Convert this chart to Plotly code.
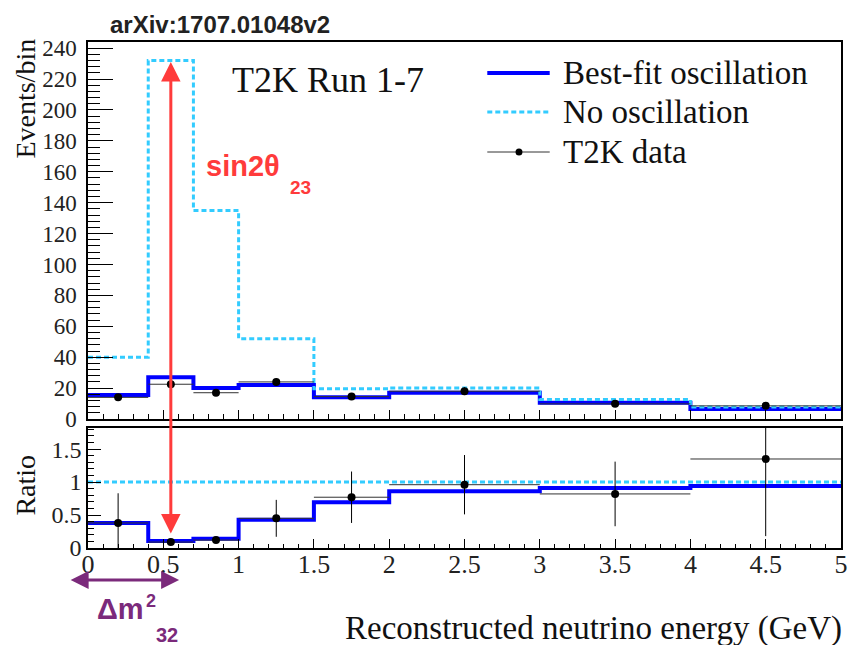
import plotly.graph_objects as go

# ---- data ----
bin_edges = [0.0, 0.4, 0.7, 1.0, 1.5, 2.0, 3.0, 4.0, 5.0]
bin_centers = [0.2, 0.55, 0.85, 1.25, 1.75, 2.5, 3.5, 4.5]
bin_halfwidth = [0.2, 0.15, 0.15, 0.25, 0.25, 0.5, 0.5, 0.5]

no_oscillation = [40, 232, 135, 52, 19.5, 20, 12.7, 7.8]
best_fit = [15.5, 27, 20, 22, 14, 17, 10.5, 6.5]
t2k_data = [14, 22.5, 17, 24, 14.5, 18, 9.8, 8.5]
t2k_data_err = [1.8, 2.2, 2.0, 2.5, 1.8, 2.5, 1.6, 1.6]

ratio_no_osc = [1, 1, 1, 1, 1, 1, 1, 1]
ratio_best_fit = [0.38, 0.105, 0.14, 0.43, 0.695, 0.86, 0.91, 0.94]
ratio_data = [0.38, 0.09, 0.12, 0.45, 0.77, 0.96, 0.82, 1.35]
ratio_data_err = [0.45, 0.02, 0.03, 0.28, 0.39, 0.45, 0.49, 1.17]

x_ticks = [0, 0.5, 1, 1.5, 2, 2.5, 3, 3.5, 4, 4.5, 5]
legend_labels = ["Best-fit oscillation", "No oscillation", "T2K data"]

BLUE = "#0000ff"
CYAN = "#33ccff"
RED = "#ff3b3b"
PURPLE = "#7b2a7b"
SERIF = "Liberation Serif, Times New Roman, serif"
SANS = "Liberation Sans, Arial, sans-serif"

W, H = 852, 645
ML, MR, MT, MB = 88, 4, 42, 97
PW, PH = W - ML - MR, H - MT - MB


def px(x):
    return (x - ML) / PW


def py(y):
    return (H - MB - y) / PH


def step(values):
    return list(values) + [values[-1]]


fig = go.Figure()

# top panel
fig.add_trace(go.Scatter(x=bin_edges, y=step(best_fit), mode="lines", line_shape="hv",
                         line=dict(color=BLUE, width=4), name=legend_labels[0],
                         xaxis="x", yaxis="y"))
fig.add_trace(go.Scatter(x=bin_edges, y=step(no_oscillation), mode="lines", line_shape="hv",
                         line=dict(color=CYAN, width=3, dash="5px,3px"), name=legend_labels[1],
                         xaxis="x", yaxis="y"))
fig.add_trace(go.Scatter(x=bin_centers, y=t2k_data, mode="markers", name=legend_labels[2],
                         marker=dict(color="black", size=8),
                         error_x=dict(type="data", array=bin_halfwidth, color="#333", thickness=1, width=0),
                         error_y=dict(type="data", array=t2k_data_err, color="black", thickness=1, width=0),
                         xaxis="x", yaxis="y"))

# ratio panel
fig.add_trace(go.Scatter(x=bin_edges, y=step(ratio_best_fit), mode="lines", line_shape="hv",
                         line=dict(color=BLUE, width=4), xaxis="x2", yaxis="y2"))
fig.add_trace(go.Scatter(x=bin_edges, y=step(ratio_no_osc), mode="lines", line_shape="hv",
                         line=dict(color=CYAN, width=3, dash="5px,3px"),
                         xaxis="x2", yaxis="y2"))
fig.add_trace(go.Scatter(x=bin_centers, y=ratio_data, mode="markers",
                         marker=dict(color="black", size=8),
                         error_x=dict(type="data", array=bin_halfwidth, color="#333", thickness=1, width=0),
                         error_y=dict(type="data", array=ratio_data_err, color="black", thickness=1, width=0),
                         xaxis="x2", yaxis="y2"))

axis_common = dict(showline=True, linecolor="black", linewidth=1.5, mirror=True,
                   showgrid=False, zeroline=False, ticks="inside", tickcolor="black")

fig.update_layout(
    width=W, height=H,
    margin=dict(l=ML, r=MR, t=MT, b=MB),
    paper_bgcolor="white", plot_bgcolor="white",
    showlegend=False,
    xaxis=dict(domain=[0, 1], range=[0, 5], anchor="y", tickvals=x_ticks, showticklabels=False,
               ticklen=9, minor=dict(ticks="inside", dtick=0.1, ticklen=5, tickcolor="black"),
               **axis_common),
    yaxis=dict(domain=[py(419), 1], range=[0, 244], anchor="x", dtick=20, ticklen=25,
               minor=dict(ticks="inside", dtick=4, ticklen=12, tickcolor="black"),
               tickfont=dict(family=SERIF, size=23, color="#222"), ticklabelstandoff=5,
               **axis_common),
    xaxis2=dict(domain=[0, 1], range=[0, 5], anchor="y2", tickvals=x_ticks, ticklen=9,
                minor=dict(ticks="inside", dtick=0.1, ticklen=4, tickcolor="black"),
                tickfont=dict(family=SERIF, size=26, color="#222"), ticklabelstandoff=-8,
                ticklabeloverflow="allow",
                **axis_common),
    yaxis2=dict(domain=[0, py(428)], range=[0, 1.82], anchor="x2", tickvals=[0, 0.5, 1, 1.5],
                ticklen=13, minor=dict(ticks="inside", dtick=0.1, ticklen=6, tickcolor="black"),
                tickfont=dict(family=SERIF, size=24, color="#222"),
                **axis_common),
)

# hand-drawn legend (long line samples as in the reference)
leg_rows = [73, 112, 152]
shapes = [
    dict(type="line", xref="paper", yref="paper", x0=px(491), x1=px(554), y0=py(leg_rows[0]),
         y1=py(leg_rows[0]), line=dict(color=BLUE, width=4)),
    dict(type="line", xref="paper", yref="paper", x0=px(491), x1=px(554), y0=py(leg_rows[1]),
         y1=py(leg_rows[1]), line=dict(color=CYAN, width=3, dash="5px,3px")),
    dict(type="line", xref="paper", yref="paper", x0=px(491), x1=px(554), y0=py(leg_rows[2]),
         y1=py(leg_rows[2]), line=dict(color="#333", width=1)),
    dict(type="circle", xref="paper", yref="paper", x0=px(519.5), x1=px(526.5),
         y0=py(leg_rows[2] + 3.5), y1=py(leg_rows[2] - 3.5), fillcolor="black",
         line=dict(color="black", width=0)),
]
fig.update_layout(shapes=shapes)

annotations = [
    dict(text="<b>arXiv:1707.01048v2</b>", xref="paper", yref="paper", x=px(221.5), y=py(25),
         xanchor="center", yanchor="middle", showarrow=False,
         font=dict(family=SANS, size=24, color="#222")),
    dict(text="T2K Run 1-7", xref="paper", yref="paper", x=px(231), y=py(80), xanchor="left",
         yanchor="middle", showarrow=False, font=dict(family=SERIF, size=36, color="#111")),
    dict(text="<b>sin2θ</b>", xref="paper", yref="paper", x=px(205), y=py(166), xanchor="left",
         yanchor="middle", showarrow=False, font=dict(family=SANS, size=29, color=RED)),
    dict(text="<b>23</b>", xref="paper", yref="paper", x=px(290), y=py(187), xanchor="left",
         yanchor="middle", showarrow=False, font=dict(family=SANS, size=19, color=RED)),
    dict(text="", xref="x", yref="y", x=0.55, y=231, ax=0, ay=473, axref="pixel", ayref="pixel",
         showarrow=True, arrowside="end+start", arrowhead=2, arrowsize=1.3, arrowwidth=3,
         arrowcolor=RED),
    dict(text="", xref="x2", yref="paper", x=0.605, y=py(580), ax=-110, ay=0, axref="pixel",
         ayref="pixel", showarrow=True, arrowside="end+start", arrowhead=2, arrowsize=1.2,
         arrowwidth=3, arrowcolor=PURPLE),
    dict(text="<b>Δm</b>", xref="paper", yref="paper", x=px(95), y=py(609),
         xanchor="left", yanchor="middle", showarrow=False,
         font=dict(family=SANS, size=29, color=PURPLE)),
    dict(text="<b>2</b>", xref="paper", yref="paper", x=px(145), y=py(601),
         xanchor="left", yanchor="middle", showarrow=False,
         font=dict(family=SANS, size=18, color=PURPLE)),
    dict(text="<b>32</b>", xref="paper", yref="paper", x=px(155), y=py(635),
         xanchor="left", yanchor="middle", showarrow=False,
         font=dict(family=SANS, size=20, color=PURPLE)),
    dict(text="Reconstructed neutrino energy (GeV)", xref="paper", yref="paper", x=px(851),
         y=py(628), xanchor="right", yanchor="middle", showarrow=False,
         font=dict(family=SERIF, size=33, color="#111")),
    dict(text="Events/bin", xref="paper", yref="paper", x=px(24), y=py(37), textangle=-90,
         xanchor="center", yanchor="top", showarrow=False,
         font=dict(family=SERIF, size=28, color="#111")),
    dict(text="Ratio", xref="paper", yref="paper", x=px(24), y=py(485), textangle=-90,
         xanchor="center", yanchor="middle", showarrow=False,
         font=dict(family=SERIF, size=28, color="#111")),
]
for label, row in zip(legend_labels, leg_rows):
    annotations.append(dict(text=label, xref="paper", yref="paper", x=px(565), y=py(row),
                            xanchor="left", yanchor="middle", showarrow=False,
                            font=dict(family=SERIF, size=33, color="#111")))
fig.update_layout(annotations=annotations)

fig.write_html("out.html", config={"displayModeBar": False},
               post_script="document.body.style.margin='0px';")
